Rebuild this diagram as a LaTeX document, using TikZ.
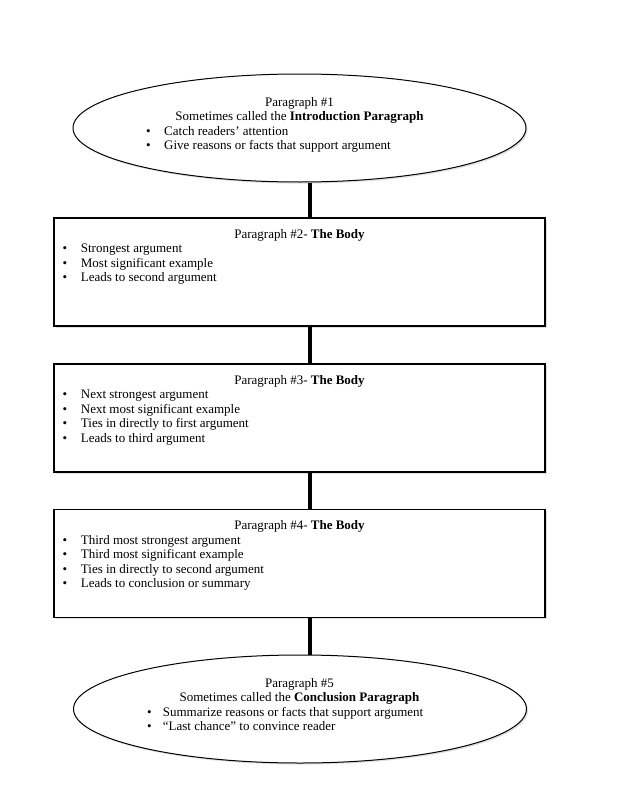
\documentclass[tikz,border=0pt]{standalone}
\usepackage{fontspec}
\setmainfont{Liberation Serif}
\usetikzlibrary{shapes.geometric,shadows}
\tikzset{
  shad/.style={drop shadow={shadow xshift=1.6pt,shadow yshift=-1.6pt,opacity=0.3,fill=black!40}},
  bodybox/.style={draw=black,line width=1.1pt,fill=white,rectangle,minimum width=491pt,minimum height=108pt,inner sep=0pt,shad},
  oval/.style={draw=black,line width=1pt,fill=white,ellipse,minimum width=453pt,minimum height=108pt,inner sep=0pt,shad},
  conn/.style={line width=3.8pt,black},
  txt/.style={inner sep=0pt,anchor=base,font=\fontsize{13}{14.5}\selectfont},
  lst/.style={inner sep=0pt,anchor=base west,font=\fontsize{13}{14.5}\selectfont},
}
\newcommand{\blist}[2]{\begin{tabular}[t]{@{}p{#1}@{}l@{}}#2\end{tabular}}
\begin{document}
\begin{tikzpicture}[x=1pt,y=1pt]
\useasboundingbox[fill=white] (0,0) rectangle (618,-800);
\coordinate (cx) at (310,0);
% shapes
\node[oval] (e1) at (299.5,-128) {};
\node[bodybox] (b2) at (299.5,-272) {};
\node[bodybox] (b3) at (299.5,-418) {};
\node[bodybox] (b4) at (299.5,-563.5) {};
\node[oval] (e5) at (300,-709) {};
% connectors
\draw[conn] (e1.south -| cx) -- (b2.north -| cx);
\draw[conn] (b2.south -| cx) -- (b3.north -| cx);
\draw[conn] (b3.south -| cx) -- (b4.north -| cx);
\draw[conn] (b4.south -| cx) -- (e5.north -| cx);
% ellipse 1 text
\node[txt] (t1a) at (299.5,-106) {Paragraph \#1};
\node[txt] (t1b) at (299.5,-120.5) {Sometimes called the \textbf{Introduction Paragraph}};
\node[lst] (l1) at (146,-135) {\blist{18pt}{• & Catch readers’ attention\\ • & Give reasons or facts that support argument}};
% box 2
\node[txt] (t2) at (299.5,-238) {Paragraph \#2- \textbf{The Body}};
\node[lst] (l2) at (62.5,-252.5) {\blist{18.2pt}{• & Strongest argument\\ • & Most significant example\\ • & Leads to second argument}};
% box 3
\node[txt] (t3) at (299.5,-384) {Paragraph \#3- \textbf{The Body}};
\node[lst] (l3) at (62.5,-398.5) {\blist{18.2pt}{• & Next strongest argument\\ • & Next most significant example\\ • & Ties in directly to first argument\\ • & Leads to third argument}};
% box 4
\node[txt] (t4) at (299.5,-529.5) {Paragraph \#4- \textbf{The Body}};
\node[lst] (l4) at (62.5,-544) {\blist{18.2pt}{• & Third most strongest argument\\ • & Third most significant example\\ • & Ties in directly to second argument\\ • & Leads to conclusion or summary}};
% ellipse 5 text
\node[txt] (t5a) at (299.5,-687) {Paragraph \#5};
\node[txt] (t5b) at (299.5,-701.5) {Sometimes called the \textbf{Conclusion Paragraph}};
\node[lst] (l5) at (147,-716) {\blist{15.7pt}{• & Summarize reasons or facts that support argument\\ • & “Last chance” to convince reader}};
\end{tikzpicture}
\end{document}
